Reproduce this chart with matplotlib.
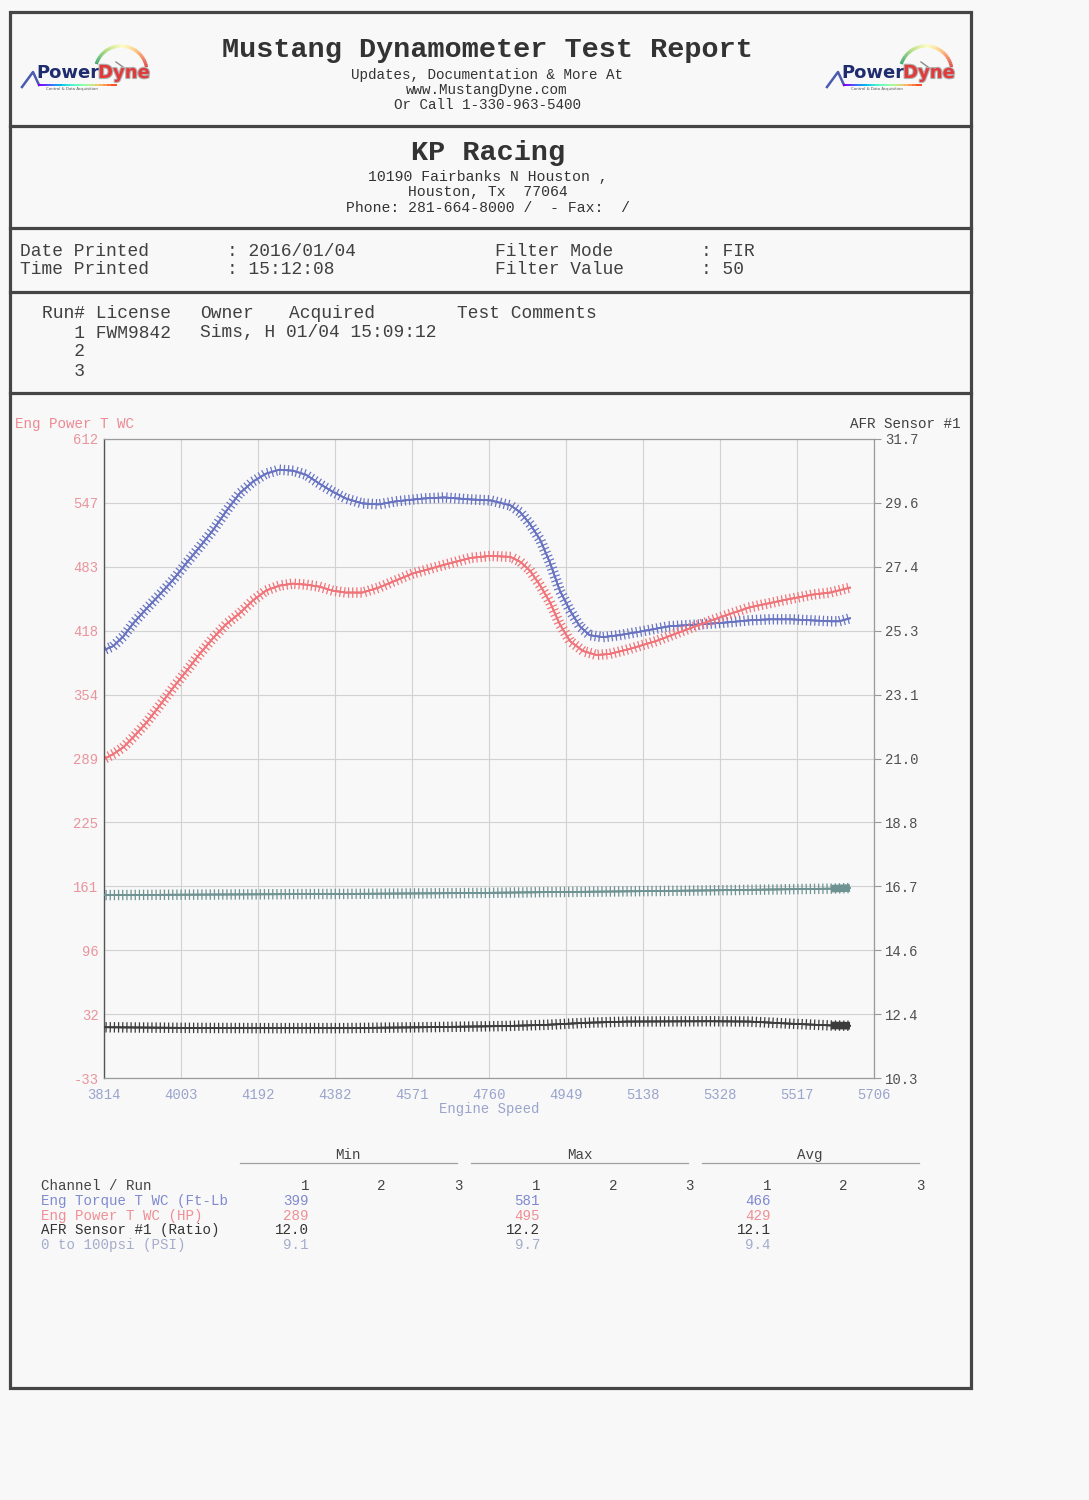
import matplotlib
matplotlib.use('Agg')
import matplotlib.pyplot as plt
import matplotlib.patheffects as pe
from matplotlib.lines import Line2D
from matplotlib.patches import Rectangle
import numpy as np

W, H = 1089, 1500
MONO = 'Liberation Mono'
PAPER = '#f8f8f8'

# values
rpm_torque = [3814, 3837, 3862, 3886, 3919, 3951, 3984, 4017, 4049, 4082, 4114,
              4147, 4180, 4212, 4245, 4278, 4310, 4343, 4375, 4408, 4449, 4489,
              4530, 4600, 4650, 4715, 4764, 4813, 4837, 4861, 4886, 4910, 4934,
              4959, 4983, 5007, 5040, 5080, 5137, 5203, 5284, 5349, 5400, 5450,
              5500, 5550, 5600, 5620, 5647]
torque = [399, 403, 413, 426, 441, 455, 470, 487, 503, 520, 539,
          557, 569, 577, 581, 580, 576, 567, 559, 552, 547, 546,
          549, 552, 553, 551, 550, 545, 538, 526, 510, 487, 459,
          439, 423, 414, 412, 414, 418, 423, 425, 427, 429, 430,
          430, 429, 428, 428, 431]

rpm_power = [3814, 3837, 3862, 3886, 3919, 3951, 3984, 4017, 4049, 4082, 4114,
             4147, 4180, 4212, 4245, 4278, 4310, 4343, 4375, 4408, 4449, 4489,
             4571, 4650, 4715, 4764, 4813, 4837, 4861, 4886, 4910, 4934, 4959,
             4991, 5024, 5056, 5105, 5170, 5235, 5300, 5349, 5400, 5480, 5556,
             5598, 5647]
power = [289, 294, 301, 311, 326, 343, 361, 378, 395, 411, 425,
         436, 449, 459, 464, 466, 465, 463, 459, 457, 457, 462,
         476, 485, 492, 494, 493, 488, 479, 464, 447, 425, 408,
         398, 394, 395, 400, 408, 418, 428, 435, 442, 449, 455,
         457, 462]

rpm_afr = [3814, 4000, 4200, 4400, 4600, 4800, 4900, 5000, 5100, 5300, 5400,
           5500, 5600, 5647]
afr = [12.0, 11.98, 11.97, 11.97, 12.0, 12.04, 12.08, 12.15, 12.19, 12.2, 12.19,
       12.12, 12.06, 12.05]

rpm_psi = [3814, 4100, 4400, 4700, 4900, 5100, 5300, 5500, 5600, 5647]
psi = [9.1, 9.15, 9.2, 9.27, 9.35, 9.42, 9.5, 9.6, 9.65, 9.7]

left_labels = ['612', '547', '483', '418', '354', '289', '225', '161', '96', '32', '-33']
right_labels = ['31.7', '29.6', '27.4', '25.3', '23.1', '21.0', '18.8', '16.7',
                '14.6', '12.4', '10.3']
x_ticks = [3814, 4003, 4192, 4382, 4571, 4760, 4949, 5138, 5328, 5517, 5706]

channels = ['Eng Torque T WC (Ft-Lb', 'Eng Power T WC (HP)', 'AFR Sensor #1 (Ratio)',
            '0 to 100psi (PSI)']
ch_min = ['399', '289', '12.0', '9.1']
ch_max = ['581', '495', '12.2', '9.7']
ch_avg = ['466', '429', '12.1', '9.4']
ch_colors = ['#7f8ad0', '#ef8f95', '#333333', '#a3accc']

fig = plt.figure(figsize=(W / 100, H / 100), dpi=100, facecolor=PAPER)


def put(x, y, s, **kw):
    kw.setdefault('family', MONO)
    kw.setdefault('va', 'center')
    fig.text(x / W, 1 - y / H, s, **kw)


def hline(x1, x2, y, **kw):
    fig.add_artist(Line2D([x1 / W, x2 / W], [1 - y / H, 1 - y / H], **kw))


# page frame
fig.add_artist(Rectangle((10 / W, 1 - 1388 / H), 961 / W, 1376 / H, fill=False,
                         ec='#454545', lw=2.3))
for yy in [126, 228, 292, 393]:
    hline(10, 971, yy, color='#454545', lw=2.3)


def logo(x0, y0):
    lg = fig.add_axes([x0 / W, 1 - (y0 + 58) / H, 135 / W, 58 / H])
    lg.set_xlim(0, 135)
    lg.set_ylim(58, 0)
    lg.axis('off')
    th = np.linspace(np.pi * 0.9, np.pi * 0.06, 40)
    cx, cy, r = 103, 37, 26
    xs, ys = cx + r * np.cos(th), cy - r * np.sin(th)
    cm = plt.get_cmap('RdYlGn_r')
    for i in range(len(th) - 1):
        lg.plot(xs[i:i + 2], ys[i:i + 2], color=cm(0.1 + 0.85 * i / len(th)), lw=2.4,
                solid_capstyle='butt', alpha=0.85)
    lg.plot([98, 112], [27, 37], color='#8a8a8a', lw=1.0)
    lg.plot([4, 15, 21], [52, 37, 50], color='#4a5bb0', lw=1.8)
    uc = plt.get_cmap('rainbow')
    ux = np.linspace(21, 98, 20)
    for i in range(len(ux) - 1):
        lg.plot(ux[i:i + 2], [50, 50], color=uc(i / len(ux)), lw=1.4)
    lg.text(18, 38, 'Power', fontsize=13, fontweight='bold', color='#1f2c6e',
            va='center', family='DejaVu Sans')
    lg.text(80, 38, 'Dyne', fontsize=13, fontweight='bold', color='#e23a3a',
            va='center', family='DejaVu Sans',
            path_effects=[pe.withStroke(linewidth=1.6, foreground='#b0b0b0')])
    lg.text(28, 54, 'Control & Data Acquisition', fontsize=2.8, color='#555555',
            va='center', family='DejaVu Sans')


logo(18, 35)
logo(823, 35)

# header
put(487, 50, 'Mustang Dynamometer Test Report', fontsize=20.5, fontweight='bold',
    ha='center', color='#333333')
put(487, 75, 'Updates, Documentation & More At', fontsize=10.3, ha='center', color='#333333')
put(487, 90, 'www.MustangDyne.com', fontsize=10.3, ha='center', color='#333333')
put(487, 105, 'Or Call 1-330-963-5400', fontsize=10.3, ha='center', color='#333333')

put(488, 153, 'KP Racing', fontsize=20.5, fontweight='bold', ha='center', color='#333333')
put(488, 177, '10190 Fairbanks N Houston ,', fontsize=10.6, ha='center', color='#333333')
put(488, 192, 'Houston, Tx  77064', fontsize=10.6, ha='center', color='#333333')
put(488, 208, 'Phone: 281-664-8000 /  - Fax:  /', fontsize=10.6, ha='center', color='#333333')

info = dict(fontsize=12.9, color='#404040')
put(20, 252, 'Date Printed', **info)
put(20, 270, 'Time Printed', **info)
put(227, 252, ': 2016/01/04', **info)
put(227, 270, ': 15:12:08', **info)
put(495, 252, 'Filter Mode', **info)
put(495, 270, 'Filter Value', **info)
put(701, 252, ': FIR', **info)
put(701, 270, ': 50', **info)

put(42, 314, 'Run# License', **info)
put(200, 314, 'Owner', **info)
put(289, 314, 'Acquired', **info)
put(457, 314, 'Test Comments', **info)
put(42, 333, '   1 FWM9842', **info)
put(200, 333, 'Sims, H 01/04 15:09:12', **info)
put(42, 352, '   2', **info)
put(42, 372, '   3', **info)

# chart
ax = fig.add_axes([104 / W, 1 - 1078 / H, 770 / W, 639 / H])
ax.set_facecolor(PAPER)
ax.set_xlim(3814, 5706)
ax.set_ylim(-33, 612)
ax.set_yticks(np.linspace(-33, 612, 11)[::-1], labels=left_labels)
ax.set_xticks(x_ticks, labels=[str(v) for v in x_ticks])
ax.grid(True, color='#d2d2d2', lw=0.8)
ax.tick_params(axis='y', length=0, pad=4, labelsize=10, labelcolor='#e9959c')
ax.tick_params(axis='x', length=0, pad=7, labelsize=10, labelcolor='#9aa4cc')
for t in ax.get_xticklabels() + ax.get_yticklabels():
    t.set_family(MONO)
for side in ['top', 'right', 'bottom']:
    ax.spines[side].set_color('#9a9a9a')
    ax.spines[side].set_linewidth(0.9)
ax.spines['left'].set_color('#555555')
ax.spines['left'].set_linewidth(1.0)
ax.set_xlabel('Engine Speed', family=MONO, fontsize=10, color='#9aa4cc', labelpad=0)

ax2 = ax.twinx()
ax2.set_ylim(10.3, 31.7)
ax2.set_yticks(np.linspace(10.3, 31.7, 11)[::-1], labels=right_labels)
ax2.tick_params(axis='y', length=5, width=0.8, color='#9a9a9a', pad=3, labelsize=10,
                labelcolor='#505050')
for t in ax2.get_yticklabels():
    t.set_family(MONO)
for s in ax2.spines.values():
    s.set_visible(False)

ax3 = ax.twinx()
ax3.set_ylim(-6.5, 48)
ax3.axis('off')


def ticked(color):
    return [pe.withTickedStroke(angle=90, spacing=3.0, length=1.1, linewidth=0.9,
                                foreground=color),
            pe.withTickedStroke(angle=-90, spacing=3.0, length=1.1, linewidth=0.9,
                                foreground=color),
            pe.Normal()]


ax.plot(rpm_torque, torque, color='#6874c2', lw=1.2, path_effects=ticked('#6874c2'))
ax.plot(rpm_power, power, color='#f07479', lw=1.2, path_effects=ticked('#f07479'))
ax2.plot(rpm_afr, afr, color='#3c3c3c', lw=1.2, path_effects=ticked('#3c3c3c'))
ax3.plot(rpm_psi, psi, color='#6f9292', lw=1.2, path_effects=ticked('#6f9292'))
# densely sampled tail of the run prints as a solid band
ax2.plot(rpm_afr[-2:], afr[-2:], color='#3c3c3c', lw=5.5, solid_capstyle='butt')
ax3.plot(rpm_psi[-2:], psi[-2:], color='#6f9292', lw=5.5, solid_capstyle='butt')

put(15, 424, 'Eng Power T WC', fontsize=10.3, color='#ec8a92')
put(960, 424, 'AFR Sensor #1', fontsize=10.3, color='#404040', ha='right')

# statistics table
tbl = dict(fontsize=10.2, color='#444444')
for label, cx, x1, x2 in [('Min', 348, 240, 457), ('Max', 580, 471, 688),
                          ('Avg', 810, 702, 919)]:
    put(cx, 1155, label, ha='center', **tbl)
    hline(x1, x2, 1163, color='#a0a0a0', lw=0.9)

col_x = [309, 386, 463, 540, 617, 694, 771, 848, 925]
put(41, 1186, 'Channel / Run', **tbl)
for i, cx in enumerate(col_x):
    put(cx, 1186, str(i % 3 + 1), ha='right', **tbl)

for r, name in enumerate(channels):
    yy = 1201 + r * 14.7
    c = ch_colors[r]
    put(41, yy, name, fontsize=10.2, color=c)
    put(col_x[0], yy, ch_min[r], fontsize=10.2, color=c, ha='right')
    put(col_x[3], yy, ch_max[r], fontsize=10.2, color=c, ha='right')
    put(col_x[6], yy, ch_avg[r], fontsize=10.2, color=c, ha='right')

fig.savefig('out.png', dpi=100, facecolor=PAPER)
